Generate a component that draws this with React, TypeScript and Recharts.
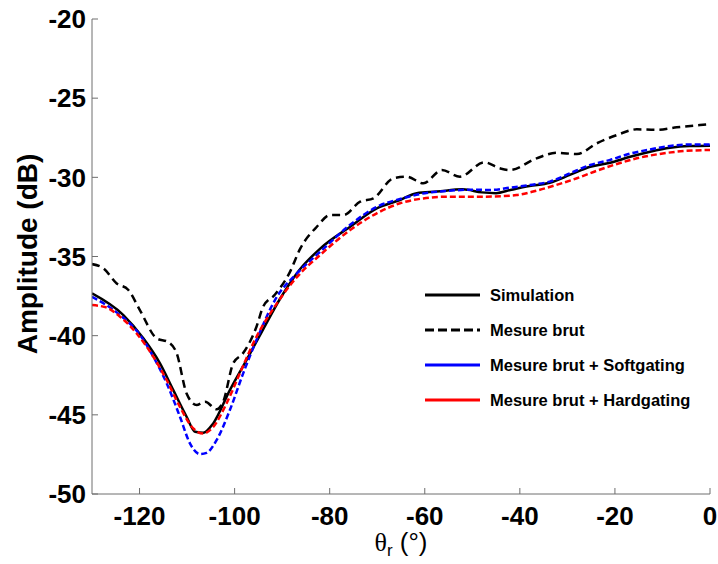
import { LineChart, Line, XAxis, YAxis, Legend } from 'recharts';

// angle (deg) / amplitude (dB)
const simTheta = [-130, -123.4, -119.2, -115.7, -112.9, -110.1, -108.3, -106.6, -104.5, -101, -97.5, -94, -90.5, -86.5, -82, -75.7, -70.1, -65.2, -61.7, -57.5, -52, -48, -45, -42, -38, -33.7, -29.5, -25.2, -21, -16.8, -12.6, -8.4, -4.3, 0];
const simAmp = [-37.33, -38.7, -40.17, -41.75, -43.44, -45.12, -46.07, -46.13, -45.54, -43.44, -41.54, -39.6, -37.7, -35.9, -34.5, -33.12, -31.96, -31.43, -31.0, -30.9, -30.76, -30.95, -31.0, -30.8, -30.55, -30.34, -29.85, -29.33, -29.08, -28.7, -28.38, -28.13, -28.02, -28.0];

const brutTheta = [-130, -127.6, -124.8, -122.4, -119.9, -116.4, -114, -112.2, -110.1, -108, -106.2, -103.8, -102.4, -100.3, -98.2, -95.4, -94, -91.5, -88.4, -86.2, -82.7, -79.9, -77.1, -73.6, -70.8, -66.6, -63.8, -60.3, -56.4, -52.6, -47.5, -44.2, -42.1, -36.5, -32.3, -28, -23.8, -19.6, -15.4, -11.2, -7, -2.1, 0];
const brutAmp = [-35.48, -35.75, -36.7, -37.1, -38.4, -40.17, -40.4, -41.1, -43.65, -44.38, -44.17, -44.65, -44.17, -41.75, -41.1, -39.44, -38.17, -37.4, -36.0, -34.5, -33.12, -32.38, -32.38, -31.54, -31.33, -30.06, -29.96, -30.38, -29.54, -29.96, -29.05, -29.43, -29.54, -28.8, -28.45, -28.53, -27.85, -27.33, -26.97, -27.0, -26.84, -26.7, -26.65];

const softTheta = [-130, -124.1, -119.9, -117.1, -114.3, -111.5, -109.4, -107.3, -105.9, -103.8, -101, -98.2, -95.4, -91.1, -86.9, -82, -75.7, -70, -65, -60, -55, -50, -46.3, -42, -37.9, -33.7, -29.5, -25.2, -21, -16.8, -12.6, -8.4, -4.3, 0];
const softAmp = [-37.54, -38.7, -39.96, -41.33, -43.0, -45.12, -46.8, -47.48, -47.4, -46.6, -44.7, -42.38, -40.28, -37.54, -36.07, -34.7, -33.0, -31.85, -31.35, -31.0, -30.85, -30.78, -30.8, -30.65, -30.48, -30.27, -29.75, -29.22, -28.9, -28.5, -28.24, -28.02, -27.92, -27.92];

const hardTheta = [-130, -127.2, -124.1, -120.6, -117.1, -114.3, -111.5, -108.7, -106.6, -104.5, -101.7, -98.9, -95.4, -91.1, -86.9, -82, -75.7, -70.1, -65.2, -60.3, -54.7, -47.7, -40.7, -36.5, -32.3, -28, -23.8, -19.6, -15.4, -11.2, -7, 0];
const hardAmp = [-38.07, -38.2, -38.8, -39.86, -41.33, -42.8, -44.5, -45.86, -46.18, -45.76, -44.28, -42.38, -40.07, -37.96, -36.3, -34.9, -33.33, -32.27, -31.64, -31.33, -31.22, -31.22, -31.12, -30.84, -30.48, -30.06, -29.58, -29.16, -28.8, -28.55, -28.38, -28.27];

const xTicks = [-120, -100, -80, -60, -40, -20, 0];
const yTicks = [-50, -45, -40, -35, -30, -25, -20];

const toPoints = (theta: number[], amp: number[]) => theta.map((t, i) => ({ theta: t, amp: amp[i] }));

const series = [
  { name: 'Simulation', data: toPoints(simTheta, simAmp), color: '#000000', dash: undefined, legendDash: undefined },
  { name: 'Mesure brut', data: toPoints(brutTheta, brutAmp), color: '#000000', dash: '8 5', legendDash: '9 4' },
  { name: 'Mesure brut + Softgating', data: toPoints(softTheta, softAmp), color: '#0000ff', dash: '6 3', legendDash: undefined },
  { name: 'Mesure brut + Hardgating', data: toPoints(hardTheta, hardAmp), color: '#ff0000', dash: '6 3', legendDash: undefined },
];

const FONT = '"Liberation Sans", Arial, sans-serif';
const AXIS_COLOR = '#6e6e6e';

function LegendBox() {
  return (
    <svg width={290} height={140}>
      {series.map((s, i) => {
        const y = 17 + i * 35;
        return (
          <g key={s.name}>
            <line x1={5} x2={60} y1={y} y2={y} stroke={s.color} strokeWidth={3} strokeDasharray={s.legendDash} />
            <text x={70} y={y + 6} fontFamily={FONT} fontWeight="bold" fontSize={16.5} fill="#000">
              {s.name}
            </text>
          </g>
        );
      })}
    </svg>
  );
}

export default function App() {
  return (
    <div style={{ position: 'absolute', left: 0, top: 0, width: 718, height: 564, background: '#fff' }}>
      <LineChart width={718} height={564} margin={{ top: 19, right: 8, left: 0, bottom: 0 }}>
        <XAxis
          xAxisId="bottom"
          dataKey="theta"
          type="number"
          domain={[-130, 0]}
          ticks={xTicks}
          allowDataOverflow
          height={70}
          stroke={AXIS_COLOR}
          tickSize={-6}
          tickMargin={19}
          tick={{ fill: '#000', fontSize: 26, fontWeight: 'bold', fontFamily: FONT }}
        />
        <XAxis
          xAxisId="top"
          orientation="top"
          dataKey="theta"
          type="number"
          domain={[-130, 0]}
          ticks={xTicks}
          height={0}
          stroke={AXIS_COLOR}
          tickSize={-6}
          tick={false}
        />
        <YAxis
          yAxisId="left"
          type="number"
          domain={[-50, -20]}
          ticks={yTicks}
          width={92}
          stroke={AXIS_COLOR}
          tickSize={-6}
          tickMargin={12}
          tick={{ fill: '#000', fontSize: 26, fontWeight: 'bold', fontFamily: FONT }}
        />
        <YAxis
          yAxisId="right"
          orientation="right"
          type="number"
          domain={[-50, -20]}
          ticks={yTicks}
          width={0}
          stroke={AXIS_COLOR}
          tickSize={-6}
          tick={false}
        />
        <Legend
          layout="vertical"
          align="center"
          verticalAlign="middle"
          content={() => <LegendBox />}
          wrapperStyle={{ left: 420, top: 278, width: 290, height: 140 }}
        />
        {series.map((s) => (
          <Line
            key={s.name}
            xAxisId="bottom"
            yAxisId="left"
            data={s.data}
            dataKey="amp"
            name={s.name}
            type="monotone"
            stroke={s.color}
            strokeWidth={2.5}
            strokeDasharray={s.dash}
            dot={false}
            isAnimationActive={false}
          />
        ))}
        <text
          transform="translate(37, 254) rotate(-90)"
          textAnchor="middle"
          fontFamily={FONT}
          fontWeight="bold"
          fontSize={28}
          fill="#000"
        >
          Amplitude (dB)
        </text>
        <text x={401} y={551} textAnchor="middle" fontFamily={FONT} fontSize={26} fill="#000">
          <tspan fontFamily='"Liberation Serif", serif'>θ</tspan>
          <tspan fontSize={17} dy={5}>r</tspan>
          <tspan dy={-5}> (°)</tspan>
        </text>
      </LineChart>
    </div>
  );
}
